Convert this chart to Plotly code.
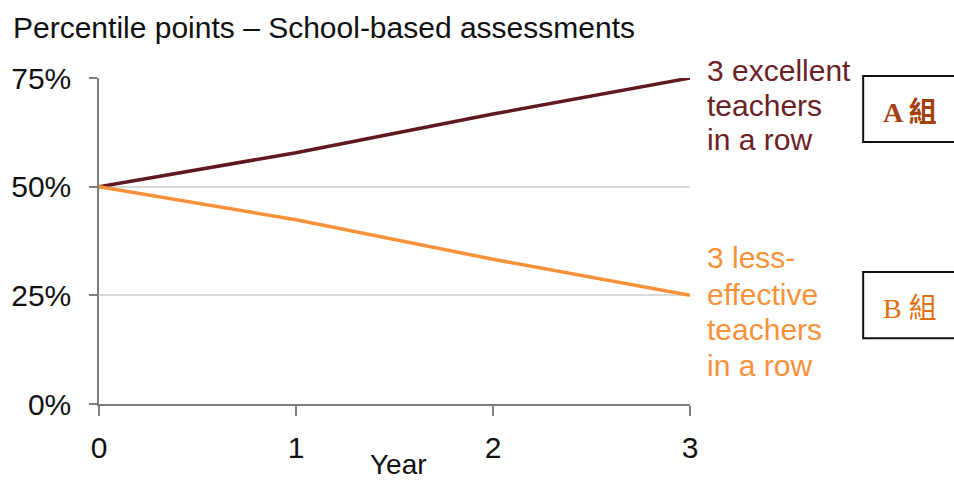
import plotly.graph_objects as go

years = [0, 1, 2, 3]
excellent = [50, 57.8, 66.7, 75]
less_effective = [50, 42.4, 33.3, 25]
y_ticks = [0, 25, 50, 75]
y_tick_labels = ["0%", "25%", "50%", "75%"]
x_ticks = [0, 1, 2, 3]
excellent_label = ["3 excellent", "teachers", "in a row"]
less_label = ["3 less-", "effective", "teachers", "in a row"]

dark = "#5e1a20"
orange = "#f7923a"
font = "Liberation Sans, Arial, sans-serif"

fig = go.Figure()
fig.add_trace(go.Scatter(x=years, y=excellent, mode="lines",
                         line=dict(color=dark, width=3.5), cliponaxis=False, showlegend=False))
fig.add_trace(go.Scatter(x=years, y=less_effective, mode="lines",
                         line=dict(color=orange, width=3.5), cliponaxis=False, showlegend=False))

fig.update_layout(
    width=954, height=482,
    margin=dict(l=99, r=264, t=78, b=78),
    paper_bgcolor="white", plot_bgcolor="white",
    font=dict(family=font, size=30, color="#111"),
    xaxis=dict(range=[0, 3], tickvals=x_ticks, ticktext=[str(v) for v in x_ticks],
               showgrid=False, zeroline=False, showline=True, linecolor="#7f7f7f", linewidth=1.5,
               ticks="outside", ticklen=10, tickcolor="#7f7f7f", tickwidth=1.5,
               ticklabelstandoff=6, tickfont=dict(size=30, color="#111")),
    yaxis=dict(range=[0, 75], tickvals=y_ticks, ticktext=y_tick_labels,
               showgrid=True, gridcolor="#d9d9d9", gridwidth=1.5, zeroline=False,
               showline=True, linecolor="#7f7f7f", linewidth=1.5,
               ticks="outside", ticklen=8, tickcolor="#7f7f7f", tickwidth=1.5,
               ticklabelstandoff=12, tickfont=dict(size=30, color="#111")),
)

# Title and axis title
fig.add_annotation(text="Percentile points – School-based assessments", xref="paper", yref="paper",
                   x=-0.149, y=1.156, xanchor="left", yanchor="middle", showarrow=False,
                   font=dict(size=30, color="#111"))
fig.add_annotation(text="Year", xref="paper", yref="paper", x=0.507, y=-0.186,
                   xanchor="center", yanchor="middle", showarrow=False,
                   font=dict(size=28, color="#111"))

# Series labels (one annotation per line for tight line spacing)
for txt, yy in zip(excellent_label, [1.0245, 0.917, 0.810]):
    fig.add_annotation(text=txt, xref="paper", yref="paper", x=1.026, y=yy,
                       xanchor="left", yanchor="middle", showarrow=False,
                       font=dict(size=30, color="#6b2227"))
for txt, yy in zip(less_label, [0.448, 0.337, 0.227, 0.117]):
    fig.add_annotation(text=txt, xref="paper", yref="paper", x=1.026, y=yy,
                       xanchor="left", yanchor="middle", showarrow=False,
                       font=dict(size=30, color=orange))

# Group boxes
fig.add_shape(type="rect", xref="paper", yref="paper", x0=1.293, x1=1.46, y0=0.804, y1=1.006,
              line=dict(color="#111", width=2), fillcolor="white")
fig.add_shape(type="rect", xref="paper", yref="paper", x0=1.293, x1=1.46, y0=0.202, y1=0.405,
              line=dict(color="#111", width=2), fillcolor="white")
fig.add_annotation(text="<b>A 組</b>", xref="paper", yref="paper", x=1.372, y=0.893,
                   xanchor="center", yanchor="middle", showarrow=False,
                   font=dict(family="Liberation Serif, Noto Sans CJK TC, serif", size=28, color="#a2400e"))
fig.add_annotation(text="B 組", xref="paper", yref="paper", x=1.372, y=0.294,
                   xanchor="center", yanchor="middle", showarrow=False,
                   font=dict(family="Liberation Serif, Noto Sans CJK TC, serif", size=28, color="#e0700f"))

fig.write_html("out.html")
